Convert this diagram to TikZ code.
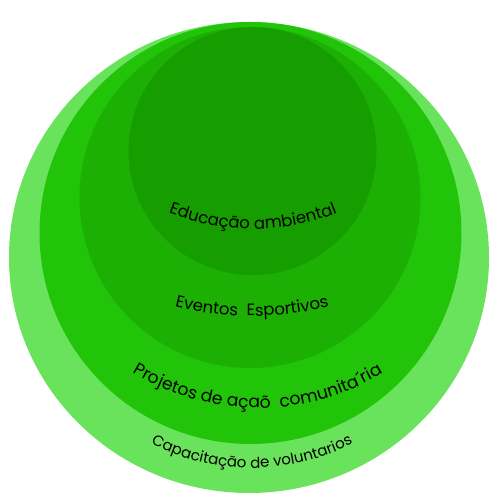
\documentclass[tikz,border=0pt]{standalone}
\usepackage{fontspec}
\setmainfont{Poppins}
\usetikzlibrary{decorations.text}
\definecolor{gOne}{HTML}{6AE35C}
\definecolor{gTwo}{HTML}{22C40A}
\definecolor{gThree}{HTML}{1CB004}
\definecolor{gFour}{HTML}{169E00}
\tikzset{
  arctext/.style={decorate,decoration={text along path,text align=center,text={#1}}}
}
\begin{document}
\begin{tikzpicture}[x=1pt,y=1pt]
\useasboundingbox (0,0) rectangle (500,500);
\fill[gOne] (249,242.5) ellipse[x radius=240,y radius=235.5];
\fill[gTwo] (250.5,267) circle[radius=211];
\fill[gThree] (250,302.5) circle[radius=170.5];
\fill[gFour] (252.5,349) circle[radius=124];
\path[arctext={|\fontsize{16.5}{19}\selectfont|Educação ambiental}]
  ([shift={(253,500)}]235:229) arc[start angle=235,end angle=305,radius=229];
\path[arctext={|\fontsize{16.5}{19}\selectfont|Eventos~ Esportivos}]
  ([shift={(252,509)}]240:325) arc[start angle=240,end angle=300,radius=325];
\path[arctext={|\fontsize{17.2}{20}\selectfont|Projetos de açaõ~ comunita´ria}]
  ([shift={(258,333)}]215:241) arc[start angle=215,end angle=325,radius=241];
\path[arctext={|\fontsize{15}{18}\selectfont|Capacitação de voluntarios}]
  ([shift={(252,252)}]220:220) arc[start angle=220,end angle=320,radius=220];
\end{tikzpicture}
\end{document}
